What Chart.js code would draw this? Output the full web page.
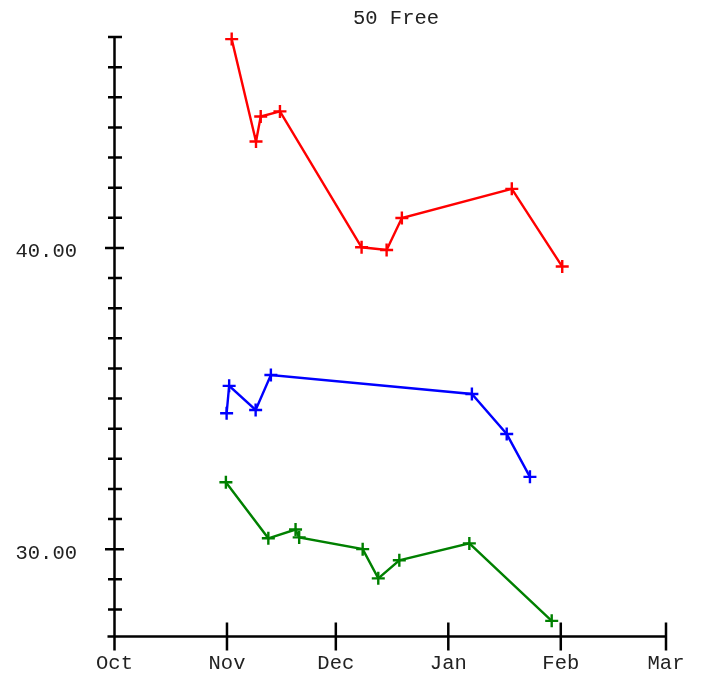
<!DOCTYPE html>
<html>
<head>
<meta charset="utf-8">
<script src="https://cdn.jsdelivr.net/npm/chart.js@4/dist/chart.umd.min.js"></script>
<style>
  html, body { margin: 0; padding: 0; background: #fff; }
  #wrap { width: 703px; height: 677px; }
</style>
</head>
<body>
<div id="wrap"><canvas id="c" width="703" height="677"></canvas></div>
<script>
// ---- data (x = days since Oct 1) ----
const titleText = '50 Free';
const monthStarts = [0, 31, 61, 92, 123, 152];
const monthLabels = ['Oct', 'Nov', 'Dec', 'Jan', 'Feb', 'Mar'];
const yTickValues = [28, 29, 30, 31, 32, 33, 34, 35, 36, 37, 38, 39, 40, 41, 42, 43, 44, 45, 46, 47];
const yLabeledValues = [30, 40];
const yMin = 27.1;
const yMax = 47;

const redDays = [32.3, 39.0, 40.3, 45.6, 68.1, 75.0, 79.2, 109.5, 123.4];
const redTimes = [46.93, 43.53, 44.36, 44.53, 40.02, 39.93, 40.99, 41.96, 39.38];
const blueDays = [30.9, 31.6, 38.9, 43.1, 98.5, 108.1, 114.5];
const blueTimes = [34.51, 35.42, 34.62, 35.78, 35.15, 33.82, 32.40];
const greenDays = [30.7, 42.4, 49.9, 50.9, 68.4, 72.7, 78.5, 97.8, 120.5];
const greenTimes = [32.22, 30.36, 30.65, 30.39, 30.00, 29.03, 29.63, 30.19, 27.62];

const FONT = 'Liberation Mono, Courier New, monospace';
const TEXT_COLOR = '#222';

function pts(xs, ys) { return xs.map((x, i) => ({ x: x, y: ys[i] })); }

function ds(label, xs, ys, color) {
  return {
    label: label,
    data: pts(xs, ys),
    borderColor: color,
    backgroundColor: color,
    borderWidth: 2.4,
    pointStyle: 'cross',
    pointRadius: 6.5,
    pointBorderWidth: 2.4,
    pointHoverRadius: 6.5,
    tension: 0,
    fill: false,
    clip: false
  };
}

const axisPlugin = {
  id: 'axisPlugin',
  afterLayout(chart) {
    const tb = chart.titleBlock;
    if (tb) {
      const half = 150;
      const cx = 396;
      tb.left = cx - half;
      tb.right = cx + half;
      tb.width = 2 * half;
    }
  },
  afterDatasetsDraw(chart) {
    const ctx = chart.ctx;
    const xs = chart.scales.x, ys = chart.scales.y;
    const x0 = xs.getPixelForValue(monthStarts[0]);
    const x1 = xs.getPixelForValue(monthStarts[monthStarts.length - 1]);
    const yTop = ys.getPixelForValue(yMax);
    const yBot = ys.getPixelForValue(yMin);
    ctx.save();
    ctx.strokeStyle = '#000';
    ctx.lineWidth = 2.5;
    ctx.lineCap = 'butt';
    ctx.beginPath();
    // y axis line
    ctx.moveTo(x0, yTop);
    ctx.lineTo(x0, yBot + 14);
    // x axis line
    ctx.moveTo(x0 - 7, yBot);
    ctx.lineTo(x1, yBot);
    // y ticks
    yTickValues.forEach(v => {
      const py = ys.getPixelForValue(v);
      if (yLabeledValues.includes(v)) {
        ctx.moveTo(x0 - 9.5, py); ctx.lineTo(x0 + 9.5, py);
      } else {
        ctx.moveTo(x0 - 6.5, py); ctx.lineTo(x0 + 7.5, py);
      }
    });
    // x ticks
    monthStarts.forEach(v => {
      const px = xs.getPixelForValue(v);
      ctx.moveTo(px, yBot - 14); ctx.lineTo(px, yBot + 14);
    });
    ctx.stroke();
    ctx.restore();
  }
};

new Chart(document.getElementById('c'), {
  type: 'line',
  data: {
    datasets: [
      ds('A', redDays, redTimes, '#ff0000'),
      ds('B', blueDays, blueTimes, '#0000ff'),
      ds('C', greenDays, greenTimes, '#008000')
    ]
  },
  options: {
    responsive: false,
    animation: false,
    layout: { padding: { left: 0, right: 37, top: 0, bottom: 0 } },
    plugins: {
      legend: { display: false },
      tooltip: { enabled: false },
      title: {
        display: true,
        text: titleText,
        color: TEXT_COLOR,
        font: { family: FONT, size: 20.5, weight: 'normal', lineHeight: 1.2 },
        padding: { top: 6, bottom: 6.4 }
      }
    },
    scales: {
      x: {
        type: 'linear',
        min: monthStarts[0],
        max: monthStarts[monthStarts.length - 1],
        grid: { display: false, drawTicks: false },
        border: { display: false },
        afterBuildTicks: (scale) => { scale.ticks = monthStarts.map(v => ({ value: v })); },
        afterFit: (scale) => {
          scale.height = 40.5;
          scale.paddingLeft = 0; scale.paddingRight = 0;
          scale.paddingTop = 0; scale.paddingBottom = 0;
        },
        ticks: {
          autoSkip: false,
          maxRotation: 0,
          padding: 15,
          color: TEXT_COLOR,
          font: { family: FONT, size: 20.5, lineHeight: 1.2 },
          callback: (value) => { const i = monthStarts.indexOf(value); return i >= 0 ? monthLabels[i] : ''; }
        }
      },
      y: {
        type: 'linear',
        min: yMin,
        max: yMax,
        grid: { display: false, drawTicks: false },
        border: { display: false },
        afterBuildTicks: (scale) => { scale.ticks = yTickValues.map(v => ({ value: v })); },
        afterFit: (scale) => {
          scale.width = 114.5;
          scale.paddingLeft = 0; scale.paddingRight = 0;
          scale.paddingTop = 0; scale.paddingBottom = 0;
        },
        ticks: {
          autoSkip: false,
          padding: 37.5,
          labelOffset: 4,
          color: TEXT_COLOR,
          font: { family: FONT, size: 20.5, lineHeight: 1.2 },
          callback: (value) => yLabeledValues.includes(value) ? value.toFixed(2) : ''
        }
      }
    }
  },
  plugins: [axisPlugin]
});
</script>
</body>
</html>
